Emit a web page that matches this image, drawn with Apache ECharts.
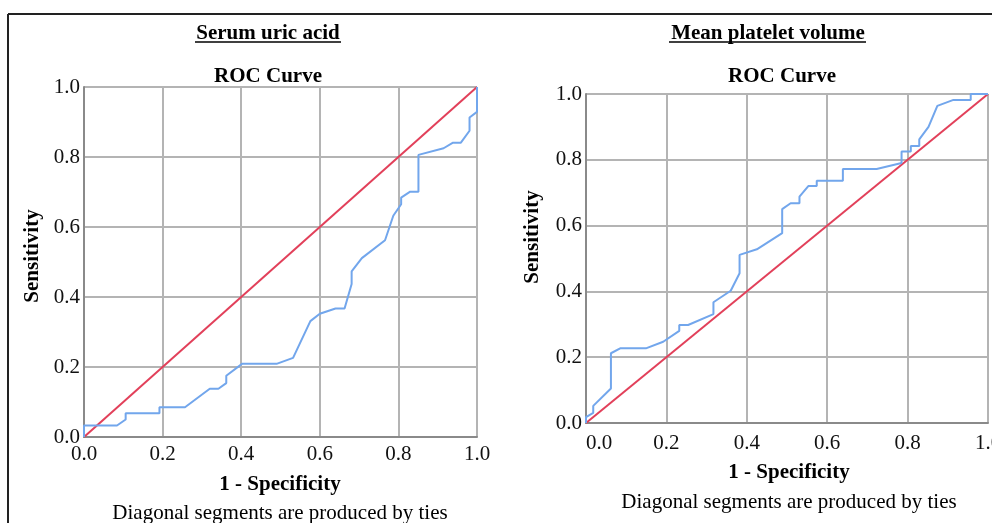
<!DOCTYPE html>
<html>
<head>
<meta charset="utf-8">
<script src="https://cdn.jsdelivr.net/npm/echarts@6/dist/echarts.min.js"></script>
<style>html,body{margin:0;padding:0;background:#fff}#c{width:992px;height:523px}</style>
</head>
<body>
<div id="c"></div>
<script>
// Serum uric acid ROC curve (1 - Specificity, Sensitivity)
const uricFpr  = [0, 0, 0.084, 0.106, 0.106, 0.192, 0.192, 0.257, 0.320, 0.342, 0.362, 0.362, 0.402, 0.490, 0.532, 0.576, 0.600, 0.640, 0.663, 0.681, 0.681, 0.707, 0.766, 0.787, 0.807, 0.807, 0.830, 0.851, 0.851, 0.915, 0.939, 0.959, 0.981, 0.981, 1.0, 1.0];
const uricSens = [0, 0.033, 0.033, 0.050, 0.068, 0.068, 0.085, 0.085, 0.138, 0.138, 0.154, 0.175, 0.209, 0.209, 0.226, 0.331, 0.352, 0.367, 0.367, 0.437, 0.473, 0.511, 0.562, 0.632, 0.665, 0.684, 0.701, 0.701, 0.806, 0.825, 0.841, 0.841, 0.875, 0.913, 0.929, 1.0];
// Mean platelet volume ROC curve
const mpvFpr  = [0, 0, 0.018, 0.018, 0.062, 0.062, 0.085, 0.149, 0.192, 0.232, 0.232, 0.254, 0.317, 0.317, 0.360, 0.382, 0.382, 0.425, 0.488, 0.488, 0.509, 0.531, 0.531, 0.553, 0.574, 0.574, 0.639, 0.639, 0.723, 0.785, 0.785, 0.808, 0.808, 0.829, 0.829, 0.852, 0.874, 0.914, 0.957, 0.957, 1.0];
const mpvSens = [0, 0.018, 0.031, 0.052, 0.105, 0.212, 0.227, 0.227, 0.247, 0.280, 0.298, 0.298, 0.331, 0.367, 0.402, 0.455, 0.511, 0.528, 0.577, 0.650, 0.668, 0.668, 0.688, 0.720, 0.720, 0.736, 0.736, 0.772, 0.772, 0.790, 0.825, 0.825, 0.842, 0.842, 0.862, 0.900, 0.964, 0.982, 0.982, 1.0, 1.0];
const refFpr  = [0, 1];
const refSens = [0, 1];
const panelTitles = ['Serum uric acid', 'Mean platelet volume'];
const chartTitle = 'ROC Curve';
const xName = '1 - Specificity';
const yName = 'Sensitivity';
const footnote = 'Diagonal segments are produced by ties';

const zip = (a, b) => a.map((v, i) => [v, b[i]]);
const FONT = '"Liberation Serif", "Times New Roman", serif';
const BLUE = '#72a6ec', RED = '#e2405a', GRID = '#b4b4b4', AXIS = '#8a8a8a';

function xAx(idx, alignLeft) {
  return {
    gridIndex: idx, type: 'value', min: 0, max: 1, interval: 0.2,
    axisLine: { show: true, onZero: false, lineStyle: { color: AXIS, width: 2 } },
    axisTick: { show: false },
    splitLine: { show: true, lineStyle: { color: GRID, width: 2 } },
    axisLabel: { color: '#111', fontFamily: FONT, fontSize: 21, margin: idx === 0 ? 7 : 10,
      formatter: v => v.toFixed(1), alignMinLabel: alignLeft ? 'left' : 'center' }
  };
}
function yAx(idx) {
  return {
    gridIndex: idx, type: 'value', min: 0, max: 1, interval: 0.2,
    axisLine: { show: true, onZero: false, lineStyle: { color: AXIS, width: 2 } },
    axisTick: { show: false },
    splitLine: { show: true, lineStyle: { color: GRID, width: 2 } },
    axisLabel: { color: '#111', fontFamily: FONT, fontSize: 21, margin: 4,
      formatter: v => v.toFixed(1) }
  };
}
function txt(x, y, s, bold, rot) {
  return { type: 'text', x: x, y: y, rotation: rot || 0, z: 10,
    style: { text: s, fill: '#000', font: (bold ? 'bold ' : '') + '21px ' + FONT,
      textAlign: 'center', textVerticalAlign: 'middle' } };
}
function ln(x1, y1, x2, y2, w, c) {
  return { type: 'line', z: 10, shape: { x1, y1, x2, y2 }, style: { stroke: c || '#000', lineWidth: w } };
}

const chart = echarts.init(document.getElementById('c'), null, { renderer: 'canvas' });
chart.setOption({
  animation: false,
  backgroundColor: '#fff',
  grid: [
    { left: 84, right: 515, top: 87, bottom: 86, containLabel: false, outerBoundsMode: 'none' },
    { left: 586, right: 4, top: 94, bottom: 100, containLabel: false, outerBoundsMode: 'none' }
  ],
  xAxis: [xAx(0, false), xAx(1, true)],
  yAxis: [yAx(0), yAx(1)],
  series: [
    { type: 'line', xAxisIndex: 0, yAxisIndex: 0, data: zip(refFpr, refSens), symbol: 'none', lineStyle: { color: RED, width: 2 }, z: 3 },
    { type: 'line', xAxisIndex: 0, yAxisIndex: 0, data: zip(uricFpr, uricSens), symbol: 'none', lineStyle: { color: BLUE, width: 2 }, z: 4 },
    { type: 'line', xAxisIndex: 1, yAxisIndex: 1, data: zip(refFpr, refSens), symbol: 'none', lineStyle: { color: RED, width: 2 }, z: 3 },
    { type: 'line', xAxisIndex: 1, yAxisIndex: 1, data: zip(mpvFpr, mpvSens), symbol: 'none', lineStyle: { color: BLUE, width: 2 }, z: 4 }
  ],
  graphic: [
    ln(8, 14, 992, 14, 2, '#222'),
    ln(8, 14, 8, 523, 2, '#222'),
    txt(268, 34, panelTitles[0], true),
    ln(195, 42, 341, 42, 1.5),
    txt(768, 34, panelTitles[1], true),
    ln(669, 42, 866, 42, 1.5),
    txt(268, 77, chartTitle, true),
    txt(782, 77, chartTitle, true),
    txt(33, 256, yName, true, Math.PI / 2),
    txt(533, 237, yName, true, Math.PI / 2),
    txt(280, 485, xName, true),
    txt(789, 473, xName, true),
    txt(280, 513, footnote, false),
    txt(789, 502, footnote, false)
  ]
});
</script>
</body>
</html>
